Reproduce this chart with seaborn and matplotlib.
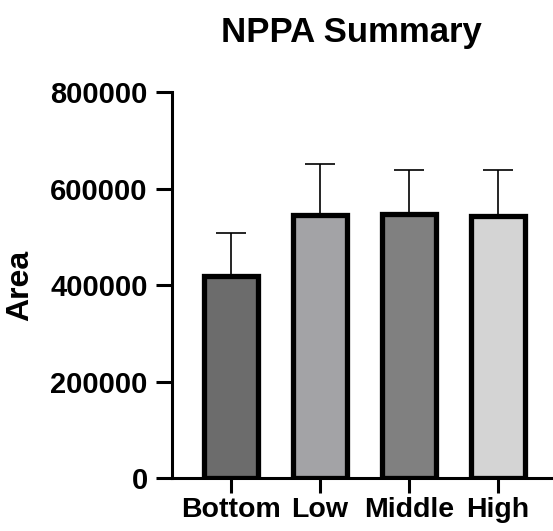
"""
NPPA summary bar chart: mean area per group with upper SD error bars.
"""

import numpy as np
import pandas as pd
import seaborn as sns
from matplotlib import pyplot as plt

groups = ['Bottom', 'Low', 'Middle', 'High']
mean_area = [418000, 545000, 547000, 544000]
upper_err = [89000, 107000, 92000, 95000]
bar_colors = ['#6c6c6c', '#a3a3a7', '#808080', '#d4d4d4']

sns.set_style("ticks")
plt.rcParams['font.family'] = ['Liberation Sans', 'DejaVu Sans']
plt.rcParams['font.weight'] = 'bold'
plt.rcParams.update({'text.color': 'black', 'axes.labelcolor': 'black', 'axes.edgecolor': 'black',
                     'xtick.color': 'black', 'ytick.color': 'black'})

df = pd.DataFrame({'group': groups, 'area': mean_area})

fig = plt.figure(figsize=(5.53, 5.31), dpi=100)
ax = fig.add_axes([0.311, 0.0998, 0.689, 0.7266])

sns.barplot(df, x='group', y='area', hue='group', palette=bar_colors, order=groups,
            width=0.6, edgecolor='black', linewidth=3.8, legend=False, ax=ax)
# only the upper half of the error bar, like a Prism plot
ax.errorbar(np.arange(len(groups)), mean_area, yerr=[np.zeros(len(groups)), upper_err],
            fmt='none', ecolor='black', elinewidth=1.2, capsize=11, capthick=1.2, zorder=0.5)

ax.set_ylim(0, 800000)
ax.set_xlim(-0.663, 3.62)
ax.set_yticks(range(0, 800001, 200000))
ax.set_yticklabels([str(v) for v in range(0, 800001, 200000)], fontsize=21, fontweight='bold')
ax.set_xticks(range(len(groups)))
ax.set_xticklabels(groups, fontsize=20.5, fontweight='bold')
ax.tick_params(axis='y', length=11.5, width=2.2, pad=6, colors='black')
ax.tick_params(axis='x', length=11, width=2.2, pad=3, colors='black')
ax.set_xlabel('')
ax.set_ylabel('Area', fontsize=23, fontweight='bold', labelpad=11, color='black')
ax.set_title('NPPA Summary', fontsize=25, fontweight='bold', pad=36, color='black', x=0.47)
sns.despine(ax=ax)
for side in ['left', 'bottom']:
    ax.spines[side].set_linewidth(2.2)
    ax.spines[side].set_color('black')

fig.savefig('out.png', dpi=100)
